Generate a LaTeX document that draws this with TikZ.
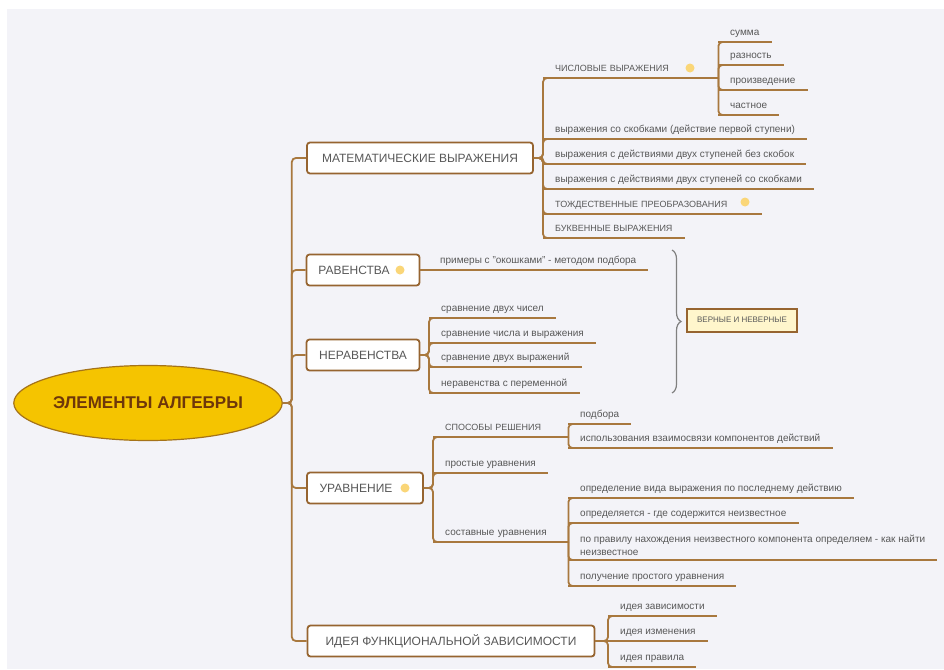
\documentclass[tikz,border=0pt]{standalone}
\usepackage{fontspec}
\setmainfont{Liberation Sans}
\usetikzlibrary{shapes.geometric,decorations.pathreplacing}

\definecolor{bgc}{RGB}{243,243,248}
\definecolor{linkc}{RGB}{168,120,62}
\definecolor{topicc}{RGB}{150,100,48}
\definecolor{txt}{RGB}{88,88,88}
\definecolor{rootfill}{RGB}{245,196,0}
\definecolor{rootline}{RGB}{165,115,25}
\definecolor{roottxt}{RGB}{110,55,10}
\definecolor{ideac}{RGB}{250,214,120}
\definecolor{boxfill}{RGB}{255,246,204}

\tikzset{
  root/.style={ellipse, draw=rootline, line width=1.2pt, fill=rootfill, text=roottxt,
    font=\bfseries\fontsize{17}{20}\selectfont, minimum width=265pt, minimum height=75pt, inner sep=0pt},
  topic/.style={draw=topicc, line width=1.8pt, rounded corners=3pt, fill=white, text=txt,
    font=\fontsize{12}{14}\selectfont, minimum height=31pt, inner xsep=8pt},
  leaf/.style={anchor=south west, inner xsep=12pt, inner ysep=4pt, text height=7pt, text depth=2.5pt,
    text=txt, font=\fontsize{10}{13}\selectfont},
  capsleaf/.style={leaf, font=\fontsize{9}{11}\selectfont},
  link/.style={draw=linkc, line width=1.8pt, rounded corners=4pt},
  idea/.style={circle, fill=ideac, inner sep=0pt, minimum size=9pt},
  verdict/.style={draw=topicc, line width=2pt, fill=boxfill, text=txt, font=\fontsize{8}{9}\selectfont,
    minimum width=110pt, minimum height=23pt},
  grouping/.style={draw=gray, line width=1.2pt, decorate, decoration={brace, amplitude=9pt}}
}

\begin{document}
\begin{tikzpicture}[x=1pt,y=-1pt]
  \useasboundingbox (0,0) rectangle (944,669);
  \fill[white] (0,0) rectangle (944,669);
  \fill[bgc] (7,9) rectangle (944,669);

  % centre and main topics
  \node[root] (root) at (148,403) {ЭЛЕМЕНТЫ АЛГЕБРЫ};
  \node[topic, minimum width=226pt] (mat) at (420,158) {МАТЕМАТИЧЕСКИЕ ВЫРАЖЕНИЯ};
  \node[topic, minimum width=113pt] (rav) at (363,270) {РАВЕНСТВА\hspace*{18pt}};
  \node[topic, minimum width=113pt] (nerav) at (363,355) {НЕРАВЕНСТВА};
  \node[topic, minimum width=116pt] (urav) at (365,488) {УРАВНЕНИЕ\hspace*{18pt}};
  \node[topic, minimum width=287pt] (func) at (451,641) {ИДЕЯ ФУНКЦИОНАЛЬНОЙ ЗАВИСИМОСТИ};

  % expressions
  \node[capsleaf, text width=151pt, align=left] (chisl) at (543,78) {ЧИСЛОВЫЕ ВЫРАЖЕНИЯ};
  \node[leaf] (sum) at (718,42) {сумма};
  \node[leaf] (razn) at (718,65) {разность};
  \node[leaf] (proizv) at (718,90) {произведение};
  \node[leaf] (chast) at (718,115) {частное};
  \node[leaf] (skob) at (543,139) {выражения со скобками (действие первой ступени)};
  \node[leaf] (bez) at (543,164) {выражения с действиями двух ступеней без скобок};
  \node[leaf] (so) at (543,189) {выражения с действиями двух ступеней со скобками};
  \node[capsleaf, text width=195pt, align=left] (tozh) at (543,214) {ТОЖДЕСТВЕННЫЕ ПРЕОБРАЗОВАНИЯ};
  \node[capsleaf] (bukv) at (543,238) {БУКВЕННЫЕ ВЫРАЖЕНИЯ};

  % equalities and inequalities
  \node[leaf] (prim) at (428,270) {примеры с "окошками" - методом подбора};
  \node[leaf] (sr1) at (429,318) {сравнение двух чисел};
  \node[leaf] (sr2) at (429,343) {сравнение числа и выражения};
  \node[leaf] (sr3) at (429,367) {сравнение двух выражений};
  \node[leaf] (sr4) at (429,393) {неравенства с переменной};
  \coordinate (bt) at (672,250);
  \coordinate (bb) at (672,393);
  \node[verdict] (vern) at (742,320) {ВЕРНЫЕ И НЕВЕРНЫЕ};

  % equations
  \node[capsleaf, text width=111pt, align=left] (sposob) at (433,437) {СПОСОБЫ РЕШЕНИЯ};
  \node[leaf] (podb) at (568,424) {подбора};
  \node[leaf] (vzaim) at (568,448) {использования взаимосвязи компонентов действий};
  \node[leaf] (prost) at (433,473) {простые уравнения};
  \node[leaf, text width=111pt, align=left] (sostav) at (433,542) {составные уравнения};
  \node[leaf] (opr1) at (568,498) {определение вида выражения по последнему действию};
  \node[leaf] (opr2) at (568,523) {определяется - где содержится неизвестное};
  \node[leaf, text height=, text depth=, align=left] (pravilo) at (568,560)
    {по правилу нахождения неизвестного компонента определяем - как найти\\неизвестное};
  \node[leaf] (poluch) at (568,586) {получение простого уравнения};

  % functions
  \node[leaf] (fz1) at (608,616) {идея зависимости};
  \node[leaf] (fz2) at (608,641) {идея изменения};
  \node[leaf] (fz3) at (608,667) {идея правила};

  % icons
  \node[idea] (icrav) at (400,270) {};
  \node[idea] (icurav) at (405,488) {};
  \node[idea] (icchisl) at (690,68) {};
  \node[idea] (ictozh) at (745,202) {};

  \foreach \t in {mat,rav,nerav,urav,func}
    \draw[link] (root.east) -- ++(9,0) |- (\t.west);

  \foreach \p/\c in {mat/chisl,mat/skob,mat/bez,mat/so,mat/tozh,mat/bukv,
      nerav/sr1,nerav/sr2,nerav/sr3,nerav/sr4,urav/sposob,urav/prost,urav/sostav,
      func/fz1,func/fz3}
    \draw[link] (\p.east) -- (\p.east -| \c.south west) |- ([xshift=6pt]\c.south west);

  \foreach \p/\c in {rav/prim,func/fz2}
    \draw[link] (\p.east) -- (\c.south west);

  \foreach \p/\c in {chisl/sum,chisl/razn,chisl/proizv,chisl/chast,sposob/podb,sposob/vzaim,
      sostav/opr1,sostav/opr2,sostav/pravilo,sostav/poluch}
    \draw[link] (\p.south east) |- ([xshift=6pt]\c.south west);

  \foreach \n in {chisl,sum,razn,proizv,chast,skob,bez,so,tozh,bukv,prim,sr1,sr2,sr3,sr4,
      sposob,podb,vzaim,prost,sostav,opr1,opr2,pravilo,poluch,fz1,fz2,fz3}
    \draw[link] (\n.south west) -- (\n.south east);

  \draw[grouping] (bt) -- (bb);
\end{tikzpicture}
\end{document}
